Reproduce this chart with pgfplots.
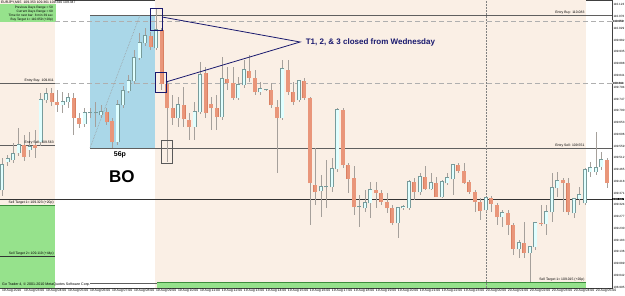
\documentclass[border=0pt]{standalone}
\usepackage{pgfplots}
\pgfplotsset{compat=1.18}
\usepackage{pgfplotstable}
\usepackage{fontspec}
\setmainfont{Liberation Sans}

\definecolor{peach}{RGB}{250,239,229}
\definecolor{boxblue}{RGB}{170,215,232}
\definecolor{tgreen}{RGB}{150,226,140}
\definecolor{tgreendark}{RGB}{60,140,60}
\definecolor{bullfill}{RGB}{224,255,255}
\definecolor{bullline}{RGB}{120,155,155}
\definecolor{bearfill}{RGB}{233,150,122}
\definecolor{bearline}{RGB}{218,128,98}
\definecolor{wick}{RGB}{165,160,155}
\definecolor{navyann}{RGB}{25,25,110}
\definecolor{levelgray}{RGB}{95,95,95}
\definecolor{dashgray}{RGB}{175,175,175}

\newcommand{\tinyf}{\fontsize{3.4}{4}\selectfont}
\newcommand{\axf}{\fontsize{3.05}{3.6}\selectfont}

\pgfplotstableread{
i o h l c
0 109.383 109.511 109.359 109.483
1 109.495 109.523 109.479 109.507
2 109.503 109.571 109.491 109.527
3 109.531 109.631 109.519 109.563
5 109.543 109.615 109.515 109.555
7 109.575 109.771 109.559 109.743
8 109.743 109.791 109.731 109.767
11 109.723 109.775 109.691 109.735
12 109.735 109.771 109.711 109.751
15 109.647 109.711 109.635 109.691
16 109.691 109.711 109.671 109.691
17 109.691 109.735 109.635 109.691
18 109.683 109.723 109.671 109.695
21 109.575 109.743 109.563 109.723
22 109.723 109.799 109.711 109.779
23 109.779 109.843 109.771 109.819
24 109.819 109.943 109.807 109.911
25 109.911 110.011 109.903 109.971
26 109.971 110.031 109.959 109.999
28 109.951 110.107 109.943 110.023
32 109.671 109.755 109.635 109.723
35 109.635 109.735 109.583 109.695
36 109.695 109.895 109.687 109.843
40 109.675 109.915 109.663 109.827
43 109.751 109.835 109.743 109.803
44 109.803 109.903 109.791 109.863
47 109.775 109.815 109.763 109.787
48 109.783 109.787 109.779 109.783
51 109.671 109.903 109.663 109.867
54 109.743 109.823 109.735 109.819
58 109.379 109.443 109.275 109.395
59 109.395 109.503 109.311 109.395
60 109.395 109.511 109.375 109.467
61 109.467 109.711 109.455 109.703
65 109.315 109.363 109.235 109.315
66 109.311 109.383 109.295 109.331
67 109.331 109.415 109.271 109.383
72 109.251 109.315 109.191 109.311
73 109.311 109.323 109.303 109.315
74 109.311 109.423 109.303 109.415
76 109.375 109.451 109.363 109.435
78 109.387 109.451 109.383 109.411
80 109.355 109.423 109.351 109.415
81 109.411 109.451 109.403 109.431
82 109.427 109.487 109.363 109.483
88 109.303 109.355 109.295 109.351
91 109.275 109.303 109.235 109.291
94 109.147 109.183 109.111 109.171
96 109.131 109.159 109.015 109.155
97 109.155 109.255 109.143 109.251
99 109.247 109.323 109.203 109.295
100 109.295 109.451 109.255 109.391
101 109.391 109.455 109.355 109.419
104 109.291 109.351 109.271 109.347
105 109.347 109.395 109.323 109.363
106 109.331 109.471 109.323 109.463
107 109.455 109.495 109.435 109.471
108 109.455 109.615 109.443 109.471
109 109.475 109.535 109.463 109.503
}\bull

\pgfplotstableread{
i o h l c
4 109.563 109.603 109.499 109.515
6 109.563 109.623 109.511 109.551
9 109.771 109.791 109.719 109.735
10 109.735 109.783 109.695 109.723
13 109.751 109.771 109.603 109.671
14 109.671 109.691 109.631 109.647
19 109.695 109.711 109.643 109.655
20 109.659 109.671 109.551 109.575
27 109.999 110.015 109.943 109.955
29 110.023 110.031 109.783 109.807
30 109.807 109.815 109.495 109.711
31 109.711 109.763 109.643 109.671
33 109.723 109.795 109.635 109.667
34 109.663 109.691 109.583 109.635
37 109.851 109.875 109.671 109.691
38 109.727 109.755 109.623 109.711
39 109.711 109.763 109.623 109.675
41 109.827 109.875 109.783 109.811
42 109.811 109.875 109.743 109.751
45 109.859 109.923 109.815 109.831
46 109.831 109.863 109.763 109.775
49 109.783 109.811 109.711 109.723
50 109.715 109.743 109.451 109.671
52 109.863 109.903 109.763 109.775
53 109.775 109.815 109.723 109.735
55 109.819 109.831 109.743 109.751
56 109.751 109.755 109.243 109.411
57 109.403 109.551 109.323 109.375
62 109.703 109.711 109.471 109.483
63 109.483 109.491 109.371 109.427
64 109.431 109.479 109.283 109.315
68 109.383 109.415 109.311 109.371
69 109.371 109.383 109.323 109.335
70 109.335 109.371 109.291 109.311
71 109.311 109.323 109.243 109.251
75 109.415 109.431 109.343 109.375
77 109.435 109.479 109.383 109.387
79 109.411 109.435 109.355 109.355
83 109.483 109.491 109.451 109.459
84 109.459 109.491 109.407 109.411
85 109.415 109.423 109.367 109.375
86 109.375 109.383 109.295 109.335
87 109.335 109.351 109.263 109.299
89 109.351 109.359 109.295 109.327
90 109.323 109.331 109.243 109.275
92 109.291 109.303 109.203 109.243
93 109.243 109.251 109.123 109.147
95 109.171 109.255 109.111 109.131
98 109.251 109.323 109.239 109.247
102 109.423 109.431 109.295 109.411
103 109.411 109.431 109.283 109.295
110 109.503 109.511 109.391 109.411
}\bear

\pgfplotsset{candle/.style={draw=none, mark=none, forget plot,
  error bars/.cd, y dir=plus, y explicit, error mark=none}}

\begin{document}
\begin{tikzpicture}
\begin{axis}[
  at={(0,0)}, anchor=south west,
  scale only axis, width=612pt, height=288pt,
  xmin=-0.364, xmax=110.91, ymin=108.991, ymax=110.143,
  clip=false,
  axis line style={draw=black!75, line width=0.5pt},
  tick align=outside, major tick length=1pt,
  tick style={draw=black!70, line width=0.4pt},
  xtick pos=bottom, ytick pos=right, yticklabel pos=right,
  xtick={0,4,...,108},
  xticklabels={19 Aug 2010, 19 Aug 03:00, 19 Aug 04:00, 19 Aug 05:00, 19 Aug 06:00, 19 Aug 07:00, 19 Aug 08:00, 19 Aug 09:00, 19 Aug 10:00, 19 Aug 11:00, 19 Aug 12:00, 19 Aug 13:00, 19 Aug 14:00, 19 Aug 15:00, 19 Aug 16:00, 19 Aug 17:00, 19 Aug 18:00, 19 Aug 19:00, 19 Aug 20:00, 19 Aug 21:00, 19 Aug 22:00, 19 Aug 23:00, 20 Aug 00:00, 20 Aug 01:00, 20 Aug 02:00, 20 Aug 03:00, 20 Aug 04:00, 20 Aug 05:00},
  ytick={108.995,109.042,...,110.13},
  scaled y ticks=false,
  /pgf/number format/assume math mode=true,
  yticklabel style={font=\axf, anchor=west, inner sep=0.3pt, /pgf/number format/fixed, /pgf/number format/fixed zerofill, /pgf/number format/precision=3},
  xticklabel style={font=\tinyf, anchor=north west, inner sep=0.4pt, xshift=-0.6pt},
]
% backgrounds
\fill[peach] (axis cs:-0.364,108.991) rectangle (axis cs:9.64,110.143);
\fill[peach] (axis cs:27.82,108.991) rectangle (axis cs:106.2,110.143);
\fill[boxblue] (axis cs:16,109.551) rectangle (axis cs:27.82,110.083);
\fill[tgreen] (axis cs:-0.364,108.991) rectangle (axis cs:9.64,109.323);
\fill[tgreen] (axis cs:-0.364,110.055) rectangle (axis cs:9.82,110.127);
\fill[tgreen] (axis cs:28.2,108.991) rectangle (axis cs:106.2,109.015);
% level lines
\addplot[levelgray, line width=0.6pt] coordinates {(16,110.083) (110.91,110.083)};
\addplot[dashgray, line width=0.9pt, dash pattern=on 5pt off 3pt] coordinates {(9.64,110.059) (110.91,110.059)};
\addplot[dashgray, line width=0.9pt, dash pattern=on 5pt off 3pt] coordinates {(9.64,109.811) (110.91,109.811)};
\addplot[levelgray, line width=0.5pt] coordinates {(-0.364,109.811) (9.64,109.811)};
\addplot[levelgray, line width=0.5pt] coordinates {(-0.364,109.563) (9.64,109.563)};
\addplot[levelgray, line width=0.6pt] coordinates {(16,109.551) (110.91,109.551)};
\addplot[black!80, line width=0.6pt] coordinates {(-0.364,109.347) (110.91,109.347)};
\addplot[tgreendark, line width=0.6pt] coordinates {(-0.364,109.323) (9.64,109.323)};
\addplot[black!80, line width=0.5pt] coordinates {(-0.364,109.119) (9.64,109.119)};
\addplot[levelgray, line width=0.5pt] coordinates {(16,109.011) (28.2,109.011)};
\addplot[tgreendark, line width=0.6pt] coordinates {(28.2,109.015) (106.2,109.015)};
\addplot[gray, line width=0.5pt, densely dotted] coordinates {(88,108.991) (88,110.143)};
\addplot[gray!80, line width=0.6pt, densely dotted] coordinates {(16,109.551) (25.09,110.083)};
% wicks
\addplot[candle, error bar style={line width=0.7pt, draw=wick, solid}]
  table[x=i, y=l, y error plus expr=\thisrow{h}-\thisrow{l}] {\bull};
\addplot[candle, error bar style={line width=0.7pt, draw=wick, solid}]
  table[x=i, y=l, y error plus expr=\thisrow{h}-\thisrow{l}] {\bear};
% bodies
\addplot[candle, error bar style={line width=4pt, draw=bullline, solid}]
  table[x=i, y expr=\thisrow{o}-0.002, y error plus expr=\thisrow{c}-\thisrow{o}+0.004] {\bull};
\addplot[candle, error bar style={line width=2.8pt, draw=bullfill, solid}]
  table[x=i, y=o, y error plus expr=\thisrow{c}-\thisrow{o}] {\bull};
\addplot[candle, error bar style={line width=4pt, draw=bearline, solid}]
  table[x=i, y expr=\thisrow{c}-0.001, y error plus expr=\thisrow{o}-\thisrow{c}+0.002] {\bear};
\addplot[candle, error bar style={line width=3.2pt, draw=bearfill, solid}]
  table[x=i, y=c, y error plus expr=\thisrow{o}-\thisrow{c}] {\bear};
% annotations
\addplot[navyann, line width=0.8pt] coordinates {(26.9,110.111) (29.1,110.111) (29.1,110.023) (26.9,110.023) (26.9,110.111)};
\addplot[navyann, line width=0.8pt] coordinates {(27.8,109.855) (29.8,109.855) (29.8,109.775) (27.8,109.775) (27.8,109.855)};
\addplot[navyann, line width=0.8pt] coordinates {(29.1,110.075) (54.2,109.975) (29.8,109.815)};
\addplot[black!65, line width=0.6pt] coordinates {(28.9,109.583) (30.9,109.583) (30.9,109.491) (28.9,109.491) (28.9,109.583)};
% texts
\node[anchor=north west, font=\tinyf, inner sep=0] at (axis cs:-0.2,110.140) {EURJPY,M15 \ 109.353 109.361 109.340 109.347};
\node[anchor=north east, font=\fontsize{3.2}{4}\selectfont, align=right, inner sep=0] at (axis cs:9.3,110.121) {Previous Days Range = 50\\Current Days Range = 60\\Time for next bar: 8 min 39 sec\\Buy Target 1= 110.059 (+20p)};
\node[anchor=south east, font=\tinyf, inner sep=0.4pt] at (axis cs:106.0,110.083) {Entry Buy: 110.083};
\node[anchor=south east, font=\tinyf, inner sep=0.4pt] at (axis cs:106.0,109.551) {Entry Sell: 109.551};
\node[anchor=south east, font=\tinyf, inner sep=0.4pt] at (axis cs:9.5,109.811) {Entry Buy: 109.811};
\node[anchor=south east, font=\tinyf, inner sep=0.4pt] at (axis cs:9.5,109.563) {Entry Sell: 109.563};
\node[anchor=south east, font=\tinyf, inner sep=0.4pt] at (axis cs:9.5,109.323) {Sell Target 1= 109.323 (+20p)};
\node[anchor=south east, font=\tinyf, inner sep=0.4pt] at (axis cs:9.5,109.119) {Sell Target 2= 109.119 (+44p)};
\node[anchor=south east, font=\tinyf, inner sep=0.4pt] at (axis cs:106.0,109.015) {Sell Target 1= 109.015 (+20p)};
\node[anchor=west, font=\fontsize{3.6}{4}\selectfont, inner sep=0] at (axis cs:0,109.003) {Go Trader 4, © 2001-2010 MetaQuotes Software Corp.};
\node[font=\fontsize{7}{8}\selectfont\bfseries, inner sep=0] at (axis cs:21.45,109.523) {56p};
\node[font=\fontsize{17}{18}\selectfont\bfseries, inner sep=0] at (axis cs:21.8,109.435) {BO};
\node[anchor=west, text=navyann, font=\fontsize{8}{9}\selectfont\bfseries, inner sep=0] at (axis cs:55.2,109.975) {T1, 2, \& 3 closed from Wednesday};
\node[anchor=west, fill=gray!45, font=\axf, inner sep=0.4pt] at (axis cs:110.95,110.059) {110.059};
\node[anchor=west, fill=gray!45, font=\axf, inner sep=0.4pt] at (axis cs:110.95,109.811) {109.811};
\node[anchor=west, fill=black, text=white, font=\axf, inner sep=0.4pt] at (axis cs:110.95,109.347) {109.347};
\end{axis}
\pgfresetboundingbox
\path[use as bounding box] (0pt,-8pt) rectangle (625pt,288pt);
\end{tikzpicture}
\end{document}
